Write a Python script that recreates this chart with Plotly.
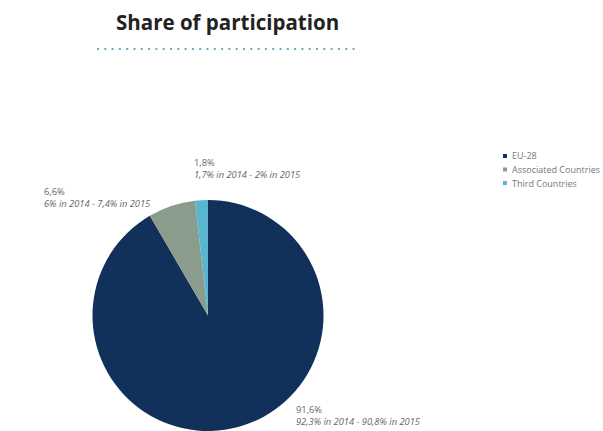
import plotly.graph_objects as go

W, H = 603, 431

categories = ["EU-28", "Associated Countries", "Third Countries"]
shares = [91.6, 6.6, 1.8]
share_labels = ["91,6%", "6,6%", "1,8%"]
history_labels = ["92,3% in 2014 - 90,8% in 2015",
                  "6% in 2014 - 7,4% in 2015",
                  "1,7% in 2014 - 2% in 2015"]
colors = ["#12315a", "#8a9c8c", "#5bb5cf"]

# label anchor positions in pixels (left, top)
label_pos = [(294, 401), (42, 183), (192, 154)]
legend_x, legend_y0, legend_dy = 505, 156, 13.5

def px(x):
    return x / W

def py(y):
    return 1 - y / H

fig = go.Figure()
fig.add_trace(go.Pie(
    labels=categories,
    values=shares,
    marker=dict(colors=colors, line=dict(width=0)),
    sort=False,
    direction="clockwise",
    rotation=0,
    textinfo="none",
    hoverinfo="label+percent",
    showlegend=False,
    domain=dict(x=[px(92), px(324)], y=[py(431), py(200)]),
))

annotations = [dict(
    text="<b>Share of participation</b>", x=px(227), y=py(22), xref="paper", yref="paper",
    showarrow=False, font=dict(family="Open Sans", size=20.5, color="#222222"),
    xanchor="center", yanchor="middle")]

for (lx, ly), s, h in zip(label_pos, share_labels, history_labels):
    annotations.append(dict(
        text=s + "<br><i>" + h + "</i>", x=px(lx), y=py(ly), xref="paper", yref="paper",
        showarrow=False, align="left", xanchor="left", yanchor="top",
        font=dict(family="Open Sans", size=9.3, color="#666666")))

shapes = [dict(type="line", xref="paper", yref="paper",
               x0=px(97), x1=px(359), y0=py(49), y1=py(49),
               line=dict(color="#6fa9bd", width=2, dash="2px,5.3px"))]

for i, (cat, col) in enumerate(zip(categories, colors)):
    cy = legend_y0 + i * legend_dy
    shapes.append(dict(type="rect", xref="paper", yref="paper",
                       x0=px(legend_x - 2), x1=px(legend_x + 2),
                       y0=py(cy + 2), y1=py(cy - 2),
                       fillcolor=col, line=dict(width=0)))
    annotations.append(dict(
        text=cat, x=px(legend_x + 5), y=py(cy), xref="paper", yref="paper",
        showarrow=False, xanchor="left", yanchor="middle",
        font=dict(family="Open Sans", size=9, color="#777777")))

fig.update_layout(
    width=W, height=H,
    margin=dict(l=0, r=0, t=0, b=0),
    paper_bgcolor="white", plot_bgcolor="white",
    annotations=annotations,
    shapes=shapes,
    showlegend=False,
)

fig.write_html("out.html", config={"displayModeBar": False},
               post_script="document.body.style.margin='0';document.body.style.overflow='hidden';")
